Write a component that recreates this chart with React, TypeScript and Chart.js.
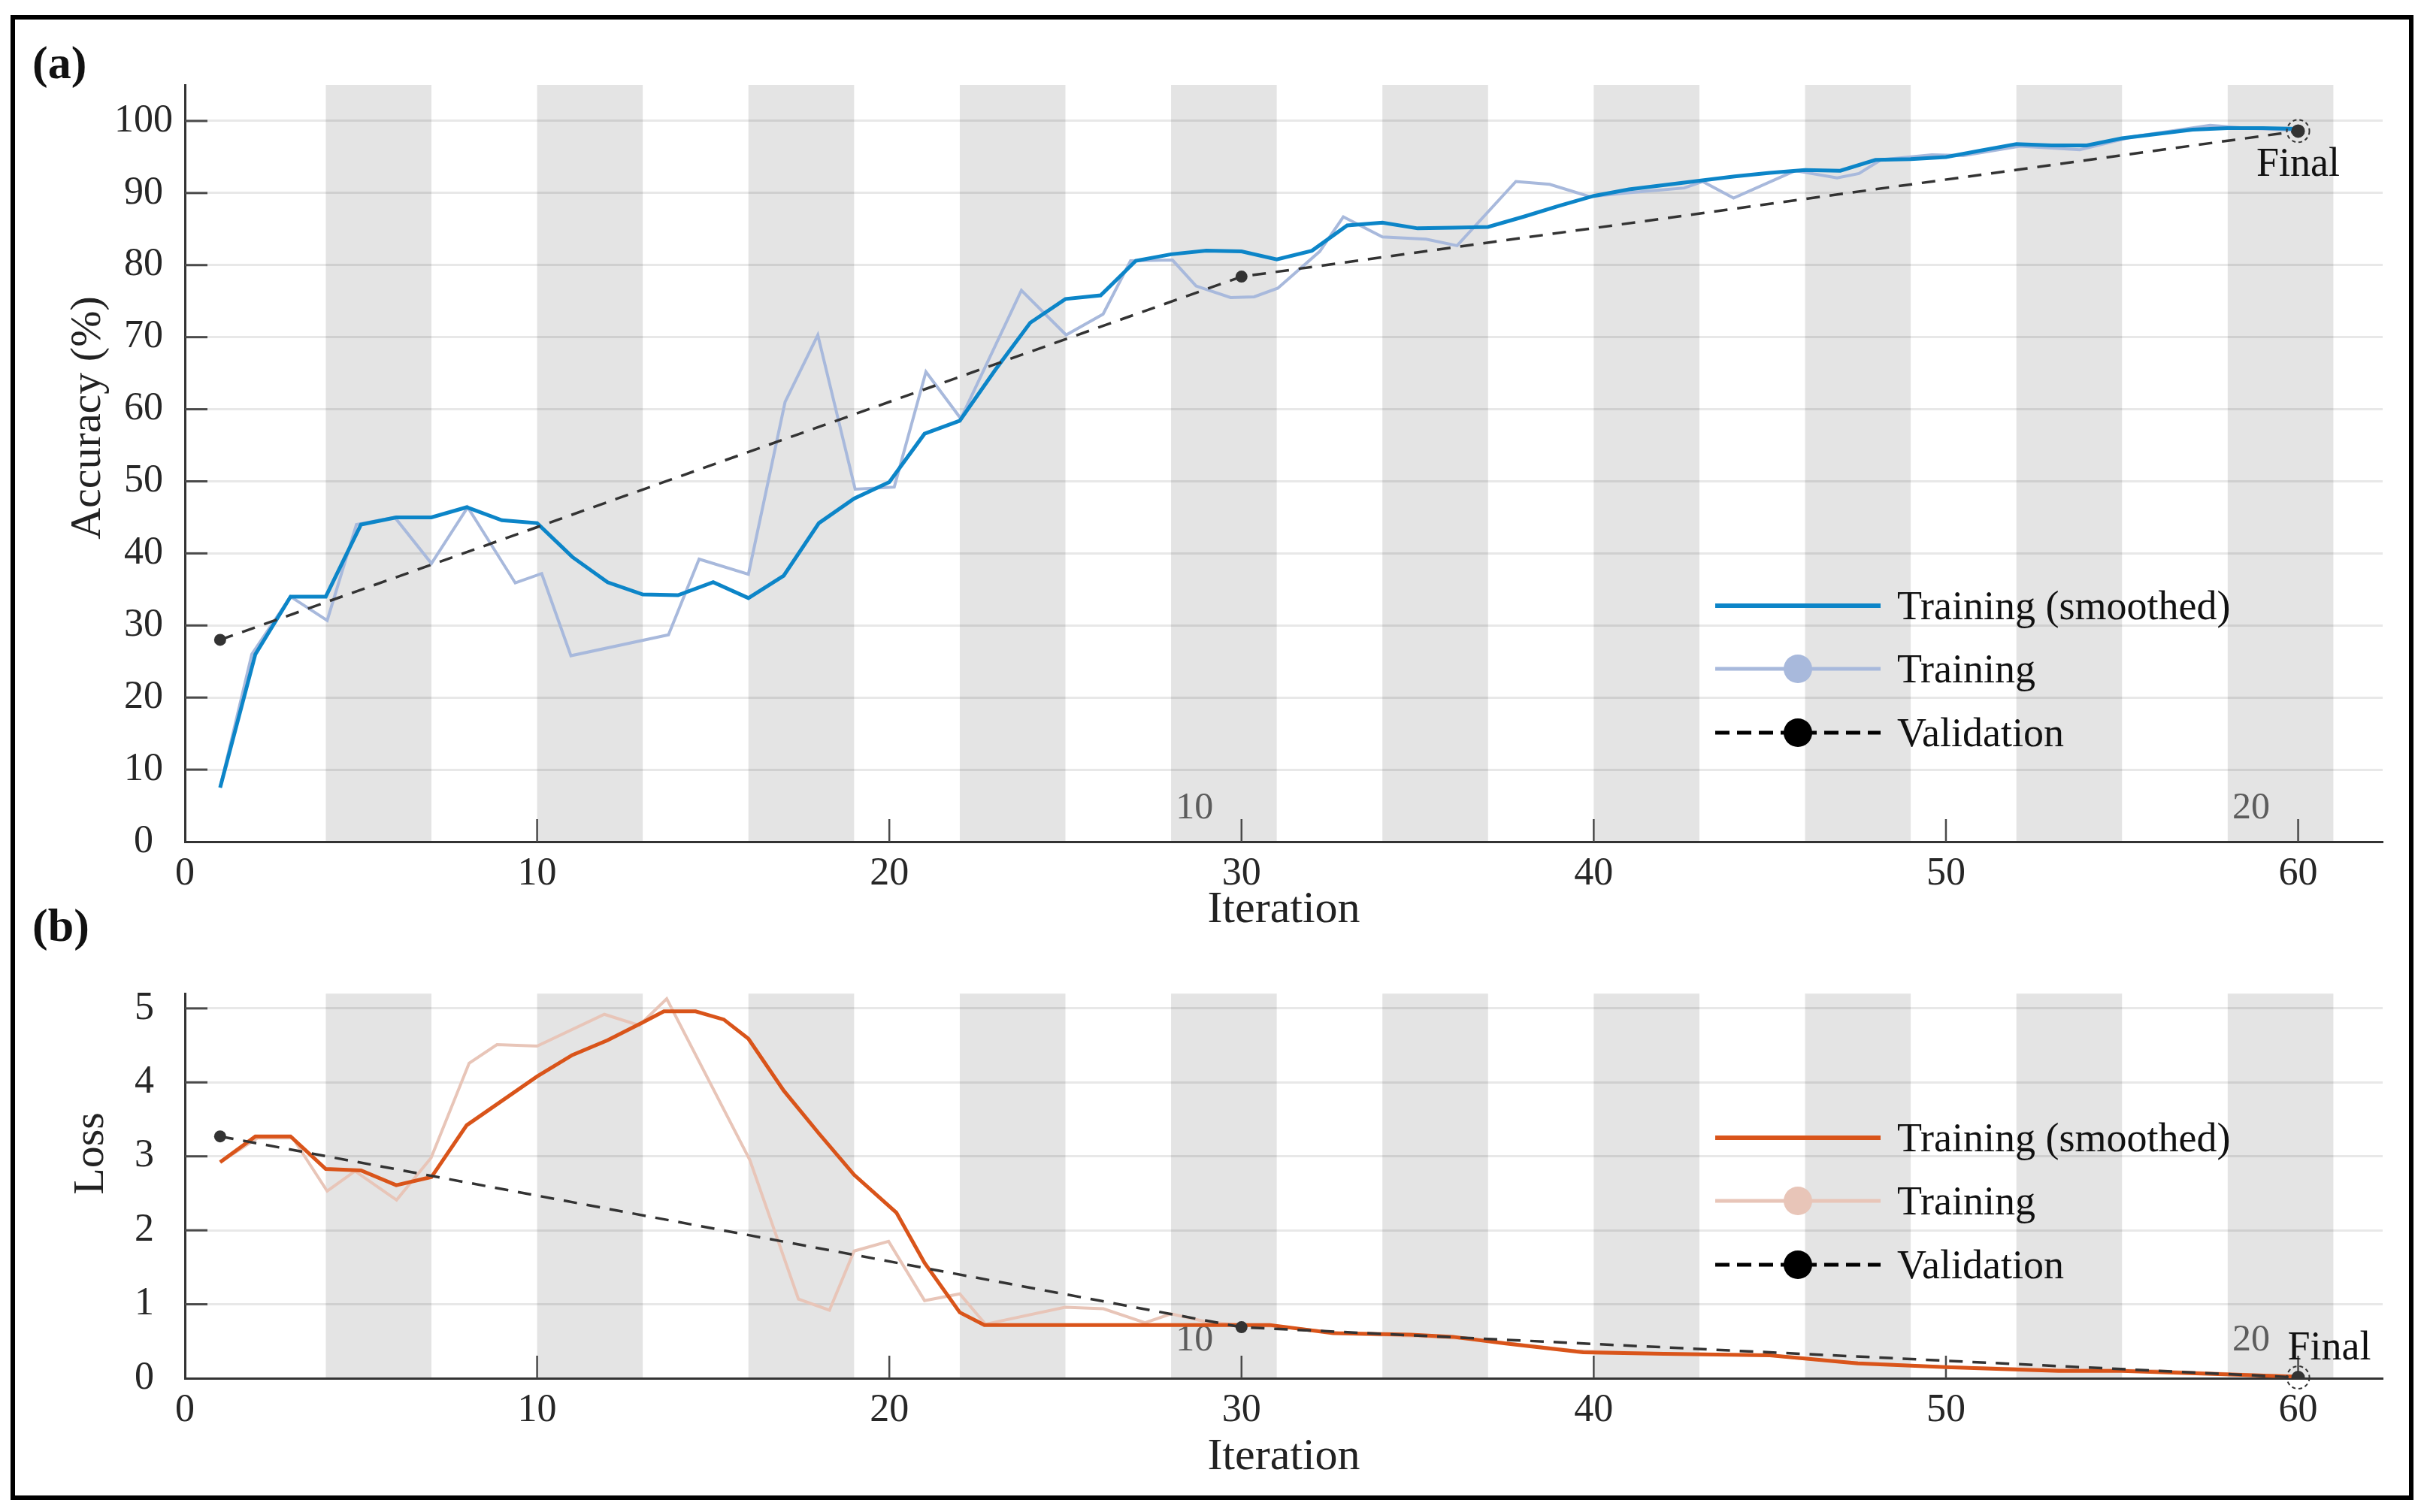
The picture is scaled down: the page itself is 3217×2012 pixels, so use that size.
import React, { useEffect, useRef } from 'react';
import { Chart, registerables } from 'chart.js';

Chart.register(...registerables);

const FONT = '"Liberation Serif", "Times New Roman", serif';

// ---- data ----
const epochBandStarts = [4, 10, 16, 22, 28, 34, 40, 46, 52, 58];
const epochBandLength = 3;
const epochMarkX = [30, 60];
const epochMarkText = ['10', '20'];
const legendLabels = ['Training (smoothed)', 'Training', 'Validation'];

const accSmoothX = [1, 2, 3, 4, 5, 6, 7, 8, 9, 10, 11, 12, 13, 14, 15, 16, 17, 18, 19, 20, 21, 22, 23, 24, 25, 26, 27, 28, 29, 30, 31, 32, 33, 34, 35, 36, 37, 38, 39, 40, 41, 42, 43, 44, 45, 46, 47, 48, 49, 50, 51, 52, 53, 54, 55, 56, 57, 58, 59, 60];
const accSmoothY = [7.5, 26, 34, 34, 44, 45, 45, 46.4, 44.6, 44.2, 39.5, 36, 34.3, 34.2, 36, 33.8, 36.9, 44.2, 47.6, 49.9, 56.6, 58.4, 65.4, 72, 75.3, 75.8, 80.6, 81.5, 82, 81.9, 80.8, 82, 85.5, 85.9, 85.1, 85.2, 85.3, 86.7, 88.2, 89.6, 90.5, 91.1, 91.7, 92.3, 92.8, 93.2, 93.1, 94.6, 94.7, 95.0, 95.9, 96.8, 96.6, 96.6, 97.6, 98.2, 98.8, 99.0, 99.0, 98.9];

const accRawX = [1, 1.9, 3, 4.04, 4.87, 5.96, 7.0, 8.03, 9.38, 10.13, 10.96, 13.73, 14.6, 16.0, 17.04, 17.97, 19.03, 20.14, 21.04, 22.03, 23.75, 25.02, 26.07, 26.85, 28.04, 28.71, 29.69, 30.36, 31.03, 32.22, 32.89, 34.0, 35.24, 36.12, 37.79, 38.75, 39.89, 40.92, 42.57, 43.09, 43.97, 45.72, 46.91, 47.53, 48.15, 49.6, 50.5, 52.1, 53.8, 55.3, 57.5, 58.5, 60];
const accRawY = [7.5, 26, 34, 30.7, 44, 45, 38.6, 46.4, 35.9, 37.2, 25.8, 28.7, 39.2, 37.1, 61, 70.3, 48.9, 49.2, 65.2, 58.7, 76.5, 70.3, 73.2, 80.6, 80.7, 77.1, 75.5, 75.6, 76.8, 81.9, 86.7, 83.9, 83.6, 82.7, 91.6, 91.2, 89.5, 90.0, 90.7, 91.6, 89.3, 93.1, 92.1, 92.7, 94.6, 95.3, 95.2, 96.5, 96.0, 97.8, 99.4, 99.0, 98.7];

const valX = [1, 30, 60];
const accValY = [28, 78.4, 98.6];
const lossValY = [3.27, 0.69, 0.01];

const lossSmoothX = [1, 2, 3, 4, 5, 6, 7, 8, 9, 10, 11, 12, 13, 13.6, 14.5, 15.3, 16, 17, 18, 19, 20.2, 21, 22, 22.7, 30.8, 32.6, 34.8, 36, 37.5, 39.7, 42, 45, 47.5, 50, 53.2, 55, 58.7, 60];
const lossSmoothY = [2.92, 3.27, 3.27, 2.83, 2.81, 2.61, 2.72, 3.42, 3.75, 4.08, 4.37, 4.57, 4.81, 4.96, 4.96, 4.85, 4.59, 3.89, 3.31, 2.75, 2.24, 1.56, 0.89, 0.72, 0.72, 0.61, 0.59, 0.56, 0.47, 0.35, 0.33, 0.31, 0.2, 0.15, 0.1, 0.1, 0.04, 0.02];

const lossRawX = [1, 2.07, 3.06, 4.04, 4.83, 6.01, 6.99, 8.07, 8.86, 10.0, 11.91, 12.9, 13.68, 16.04, 17.42, 18.3, 19.0, 19.98, 21.0, 22.0, 22.73, 24.99, 26.08, 27.26, 28.0, 29.03, 30.0, 31.0, 33.0, 35.0, 36.5, 39.5, 42.0, 45.0, 47.0, 50.0, 53.0, 56.0, 58.5, 60];
const lossRawY = [2.92, 3.25, 3.25, 2.53, 2.80, 2.41, 2.98, 4.26, 4.51, 4.49, 4.92, 4.77, 5.13, 2.95, 1.07, 0.92, 1.72, 1.85, 1.05, 1.14, 0.73, 0.96, 0.94, 0.75, 0.87, 0.76, 0.72, 0.70, 0.60, 0.57, 0.53, 0.37, 0.33, 0.31, 0.22, 0.15, 0.12, 0.10, 0.05, 0.02];

const pts = (xs: number[], ys: number[]) => xs.map((x, i) => ({ x, y: ys[i] }));

type PanelCfg = {
  key: string;
  yMax: number;
  yTickMax: number;
  yStep: number;
  yTickPad: number;
  padTop: number;
  xHeight: number;
  xTitlePad: number;
  yTitle: string;
  yTitleX: number;
  yTitleY: number;
  legendLeftFromRight: number;
  legendRowsFromBottom: number[];
  epochLabelRise: number;
  finalMode: 'below' | 'right';
  smoothColor: string;
  rawColor: string;
  smooth: { x: number; y: number }[];
  raw: { x: number; y: number }[];
  val: { x: number; y: number }[];
};

function makeDecor(cfg: PanelCfg) {
  return {
    id: 'decor_' + cfg.key,
    beforeDraw(chart: any) {
      const { ctx, chartArea: a, scales } = chart;
      const x = scales.x;
      ctx.save();
      ctx.fillStyle = '#e4e4e4';
      for (const s of epochBandStarts) {
        const x0 = x.getPixelForValue(s);
        const x1 = x.getPixelForValue(s + epochBandLength);
        ctx.fillRect(x0, a.top, x1 - x0, a.bottom - a.top);
      }
      ctx.restore();
    },
    beforeDatasetsDraw(chart: any) {
      const { ctx, chartArea: a, scales } = chart;
      const x = scales.x;
      const y = scales.y;
      ctx.save();
      ctx.strokeStyle = '#4a4a4a';
      ctx.lineWidth = 3;
      for (const t of y.ticks) {
        if (t.value === 0) continue;
        const py = y.getPixelForValue(t.value);
        ctx.beginPath();
        ctx.moveTo(a.left, py);
        ctx.lineTo(a.left + 30, py);
        ctx.stroke();
      }
      ctx.lineWidth = 2.5;
      for (const t of x.ticks) {
        if (t.value === 0) continue;
        const px = x.getPixelForValue(t.value);
        ctx.beginPath();
        ctx.moveTo(px, a.bottom);
        ctx.lineTo(px, a.bottom - 30);
        ctx.stroke();
      }
      ctx.fillStyle = '#5c5c5c';
      ctx.font = `50px ${FONT}`;
      ctx.textAlign = 'right';
      ctx.textBaseline = 'alphabetic';
      epochMarkX.forEach((m, i) => {
        ctx.fillText(epochMarkText[i], x.getPixelForValue(m - 0.8), a.bottom - cfg.epochLabelRise);
      });
      ctx.restore();
    },
    afterDatasetsDraw(chart: any) {
      const { ctx, chartArea: a } = chart;
      ctx.save();
      const meta = chart.getDatasetMeta(0);
      const pt = meta.data[meta.data.length - 1];
      ctx.strokeStyle = '#333';
      ctx.lineWidth = 2;
      ctx.setLineDash([5, 4]);
      ctx.beginPath();
      ctx.arc(pt.x, pt.y, 15, 0, Math.PI * 2);
      ctx.stroke();
      ctx.setLineDash([]);
      ctx.fillStyle = '#111';
      ctx.font = `54px ${FONT}`;
      ctx.textBaseline = 'alphabetic';
      if (cfg.finalMode === 'below') {
        ctx.textAlign = 'center';
        ctx.fillText('Final', pt.x, pt.y + 60);
      } else {
        ctx.textAlign = 'left';
        ctx.fillText('Final', pt.x - 14, pt.y - 24);
      }

      const lx0 = a.right - cfg.legendLeftFromRight;
      const lx1 = lx0 + 220;
      const mid = (lx0 + lx1) / 2;
      const rows = cfg.legendRowsFromBottom.map((d) => a.bottom - d);
      const entries = [
        { color: cfg.smoothColor, width: 6, dash: [] as number[], marker: false },
        { color: cfg.rawColor, width: 5, dash: [] as number[], marker: true },
        { color: '#000', width: 5, dash: [19, 10], marker: true },
      ];
      entries.forEach((e, i) => {
        const ry = rows[i];
        ctx.strokeStyle = e.color;
        ctx.lineWidth = e.width;
        ctx.setLineDash(e.dash);
        ctx.beginPath();
        ctx.moveTo(lx0, ry);
        ctx.lineTo(lx1, ry);
        ctx.stroke();
        ctx.setLineDash([]);
        if (e.marker) {
          ctx.fillStyle = e.color;
          ctx.beginPath();
          ctx.arc(mid, ry, 19, 0, Math.PI * 2);
          ctx.fill();
        }
        ctx.fillStyle = '#111';
        ctx.font = `54px ${FONT}`;
        ctx.textAlign = 'left';
        ctx.textBaseline = 'alphabetic';
        ctx.fillText(legendLabels[i], lx1 + 22, ry + 18);
      });

      ctx.save();
      ctx.translate(cfg.yTitleX, cfg.yTitleY);
      ctx.rotate(-Math.PI / 2);
      ctx.fillStyle = '#222';
      ctx.font = `58px ${FONT}`;
      ctx.textAlign = 'center';
      ctx.textBaseline = 'alphabetic';
      ctx.fillText(cfg.yTitle, 0, 0);
      ctx.restore();
      ctx.restore();
    },
  };
}

function buildConfig(cfg: PanelCfg): any {
  return {
    type: 'line',
    data: {
      datasets: [
        {
          label: 'Validation',
          data: cfg.val,
          borderColor: '#333',
          borderWidth: 3.5,
          borderDash: [18, 13],
          pointRadius: [8, 8, 9],
          pointBackgroundColor: '#333',
          pointBorderWidth: 0,
          tension: 0,
          order: 0,
        },
        {
          label: 'Training (smoothed)',
          data: cfg.smooth,
          borderColor: cfg.smoothColor,
          borderWidth: 5,
          pointRadius: 0,
          tension: 0,
          order: 1,
        },
        {
          label: 'Training',
          data: cfg.raw,
          borderColor: cfg.rawColor,
          borderWidth: 4,
          pointRadius: 0,
          tension: 0,
          order: 2,
        },
      ],
    },
    options: {
      responsive: false,
      animation: false,
      devicePixelRatio: 1,
      events: [],
      layout: { padding: { left: 0, right: 47, top: cfg.padTop, bottom: 0 } },
      plugins: { legend: { display: false }, tooltip: { enabled: false } },
      scales: {
        x: {
          type: 'linear',
          min: 0,
          max: 62.4,
          afterBuildTicks: (s: any) => {
            s.ticks = s.ticks.filter((t: any) => Math.abs(t.value % 10) < 1e-6 && t.value <= 60);
          },
          afterFit: (s: any) => {
            s.height = cfg.xHeight;
          },
          grid: { display: true, color: 'rgba(0,0,0,0)', drawTicks: false },
          border: { display: true, color: '#333', width: 3 },
          ticks: {
            stepSize: 10,
            includeBounds: false,
            padding: 12,
            autoSkip: false,
            maxRotation: 0,
            color: '#262626',
            font: { family: FONT, size: 52 },
          },
          title: {
            display: true,
            text: 'Iteration',
            color: '#222',
            font: { family: FONT, size: 60 },
            padding: { top: 0, bottom: cfg.xTitlePad },
          },
        },
        y: {
          type: 'linear',
          min: 0,
          max: cfg.yMax,
          afterBuildTicks: (s: any) => {
            s.ticks = s.ticks.filter(
              (t: any) => Math.abs(t.value / cfg.yStep - Math.round(t.value / cfg.yStep)) < 1e-6 && t.value <= cfg.yTickMax
            );
          },
          afterFit: (s: any) => {
            s.width = 246;
          },
          grid: { color: 'rgba(0,0,0,0.09)', lineWidth: 3, drawTicks: false },
          border: { display: true, color: '#333', width: 3 },
          ticks: {
            stepSize: cfg.yStep,
            includeBounds: false,
            padding: cfg.yTickPad,
            crossAlign: 'center',
            color: '#262626',
            font: { family: FONT, size: 52 },
          },
        },
      },
    },
    plugins: [makeDecor(cfg)],
  };
}

const topCfg: PanelCfg = {
  key: 'acc',
  yMax: 105,
  yTickMax: 100,
  yStep: 10,
  yTickPad: 16,
  padTop: 113,
  xHeight: 140,
  xTitlePad: 13,
  yTitle: 'Accuracy (%)',
  yTitleX: 133,
  yTitleY: 556,
  legendLeftFromRight: 888,
  legendRowsFromBottom: [314, 230, 145],
  epochLabelRise: 31,
  finalMode: 'below',
  smoothColor: '#0c85c8',
  rawColor: '#a8b9dc',
  smooth: pts(accSmoothX, accSmoothY),
  raw: pts(accRawX, accRawY),
  val: pts(valX, accValY),
};

const bottomCfg: PanelCfg = {
  key: 'loss',
  yMax: 5.2,
  yTickMax: 5,
  yStep: 1,
  yTickPad: 41,
  padTop: 24,
  xHeight: 156,
  xTitlePad: 15,
  yTitle: 'Loss',
  yTitleX: 137,
  yTitleY: 285,
  legendLeftFromRight: 888,
  legendRowsFromBottom: [320, 236, 151],
  epochLabelRise: 37,
  finalMode: 'right',
  smoothColor: '#d9541a',
  rawColor: '#e8c5b8',
  smooth: pts(lossSmoothX, lossSmoothY),
  raw: pts(lossRawX, lossRawY),
  val: pts(valX, lossValY),
};

function Panel({ top, height, cfg }: { top: number; height: number; cfg: PanelCfg }) {
  const ref = useRef<HTMLCanvasElement>(null);
  useEffect(() => {
    let chart: Chart | null = null;
    let cancelled = false;
    const make = () => {
      if (cancelled || !ref.current) return;
      chart = new Chart(ref.current, buildConfig(cfg));
    };
    const fonts: any = (document as any).fonts;
    if (fonts && fonts.load) {
      Promise.all([
        fonts.load('52px "Liberation Serif"'),
        fonts.load('bold 52px "Liberation Serif"'),
      ])
        .catch(() => null)
        .then(make);
    } else {
      make();
    }
    return () => {
      cancelled = true;
      if (chart) chart.destroy();
    };
  }, []);
  return (
    <canvas
      ref={ref}
      width={3217}
      height={height}
      style={{ position: 'absolute', left: 0, top, width: 3217, height }}
    />
  );
}

export default function App() {
  const label: React.CSSProperties = {
    position: 'absolute',
    left: 43,
    fontFamily: FONT,
    fontWeight: 'bold',
    fontSize: 62,
    lineHeight: 1,
    color: '#111',
  };
  return (
    <div style={{ position: 'absolute', left: 0, top: 0, width: 3217, height: 2012, background: '#fff', overflow: 'hidden' }}>
      <div
        style={{
          position: 'absolute',
          left: 14,
          top: 20,
          width: 3197,
          height: 1976,
          border: '6px solid #000',
          boxSizing: 'border-box',
        }}
      />
      <Panel top={0} height={1260} cfg={topCfg} />
      <Panel top={1250} height={740} cfg={bottomCfg} />
      <div style={{ ...label, top: 52 }}>(a)</div>
      <div style={{ ...label, top: 1200 }}>(b)</div>
    </div>
  );
}
